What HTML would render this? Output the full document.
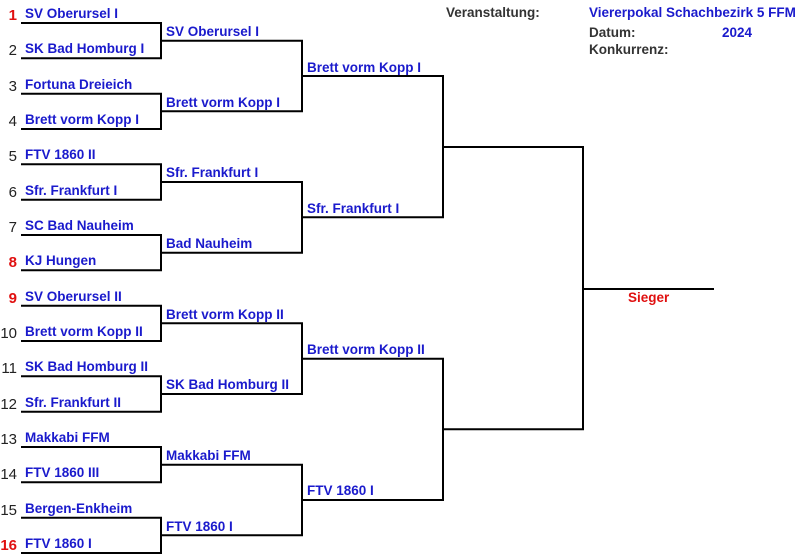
<!DOCTYPE html>
<html><head><meta charset="utf-8"><style>
html,body{margin:0;padding:0;background:#fff;}
svg{display:block;}
text{font-family:"Liberation Sans",Arial,sans-serif;}
.t{font-size:13.5px;font-weight:bold;fill:#1a1acc;}
.n{font-size:15px;fill:#222;text-anchor:end;}
.r{fill:#e01010;font-weight:bold;}
.h{font-size:13.5px;font-weight:bold;fill:#333;}
</style></head><body>
<svg width="800" height="558" viewBox="0 0 800 558" xmlns="http://www.w3.org/2000/svg">
<g stroke="#000" stroke-width="2" fill="none">
<path d="M21 23H161V58.3H21"/>
<path d="M21 93.7H161V129H21"/>
<path d="M21 164.3H161V199.7H21"/>
<path d="M21 235H161V270.3H21"/>
<path d="M21 305.7H161V341H21"/>
<path d="M21 376.3H161V411.7H21"/>
<path d="M21 447H161V482.3H21"/>
<path d="M21 517.7H161V553H21"/>
<path d="M161 40.7H302V111.3H161"/>
<path d="M161 182H302V252.7H161"/>
<path d="M161 323.3H302V394H161"/>
<path d="M161 464.7H302V535.3H161"/>
<path d="M302 76H443V217.3H302"/>
<path d="M302 358.7H443V500H302"/>
<path d="M443 147H583V429.3H443"/>
<path d="M583 289H714"/>
</g>
<text class="n r" x="17" y="20">1</text>
<text class="n" x="17" y="55">2</text>
<text class="n" x="17" y="91">3</text>
<text class="n" x="17" y="126">4</text>
<text class="n" x="17" y="161">5</text>
<text class="n" x="17" y="197">6</text>
<text class="n" x="17" y="232">7</text>
<text class="n r" x="17" y="267">8</text>
<text class="n r" x="17" y="303">9</text>
<text class="n" x="17" y="338">10</text>
<text class="n" x="17" y="373">11</text>
<text class="n" x="17" y="409">12</text>
<text class="n" x="17" y="444">13</text>
<text class="n" x="17" y="479">14</text>
<text class="n" x="17" y="515">15</text>
<text class="n r" x="17" y="550">16</text>
<text class="t" x="25" y="18">SV Oberursel I</text>
<text class="t" x="25" y="53">SK Bad Homburg I</text>
<text class="t" x="25" y="89">Fortuna Dreieich</text>
<text class="t" x="25" y="124">Brett vorm Kopp I</text>
<text class="t" x="25" y="159">FTV 1860 II</text>
<text class="t" x="25" y="195">Sfr. Frankfurt I</text>
<text class="t" x="25" y="230">SC Bad Nauheim</text>
<text class="t" x="25" y="265">KJ Hungen</text>
<text class="t" x="25" y="301">SV Oberursel II</text>
<text class="t" x="25" y="336">Brett vorm Kopp II</text>
<text class="t" x="25" y="371">SK Bad Homburg II</text>
<text class="t" x="25" y="407">Sfr. Frankfurt II</text>
<text class="t" x="25" y="442">Makkabi FFM</text>
<text class="t" x="25" y="477">FTV 1860 III</text>
<text class="t" x="25" y="513">Bergen-Enkheim</text>
<text class="t" x="25" y="548">FTV 1860 I</text>
<text class="t" x="166" y="36">SV Oberursel I</text>
<text class="t" x="166" y="107">Brett vorm Kopp I</text>
<text class="t" x="166" y="177">Sfr. Frankfurt I</text>
<text class="t" x="166" y="248">Bad Nauheim</text>
<text class="t" x="166" y="319">Brett vorm Kopp II</text>
<text class="t" x="166" y="389">SK Bad Homburg II</text>
<text class="t" x="166" y="460">Makkabi FFM</text>
<text class="t" x="166" y="531">FTV 1860 I</text>
<text class="t" x="307" y="72">Brett vorm Kopp I</text>
<text class="t" x="307" y="213">Sfr. Frankfurt I</text>
<text class="t" x="307" y="354">Brett vorm Kopp II</text>
<text class="t" x="307" y="495">FTV 1860 I</text>
<text class="t" x="628" y="302" style="fill:#e01010">Sieger</text>
<text class="h" x="446" y="17">Veranstaltung:</text>
<text class="t" x="589" y="17">Viererpokal Schachbezirk 5 FFM</text>
<text class="h" x="589" y="37">Datum:</text>
<text class="t" x="722" y="37">2024</text>
<text class="h" x="589" y="54">Konkurrenz:</text>
</svg>
</body></html>
